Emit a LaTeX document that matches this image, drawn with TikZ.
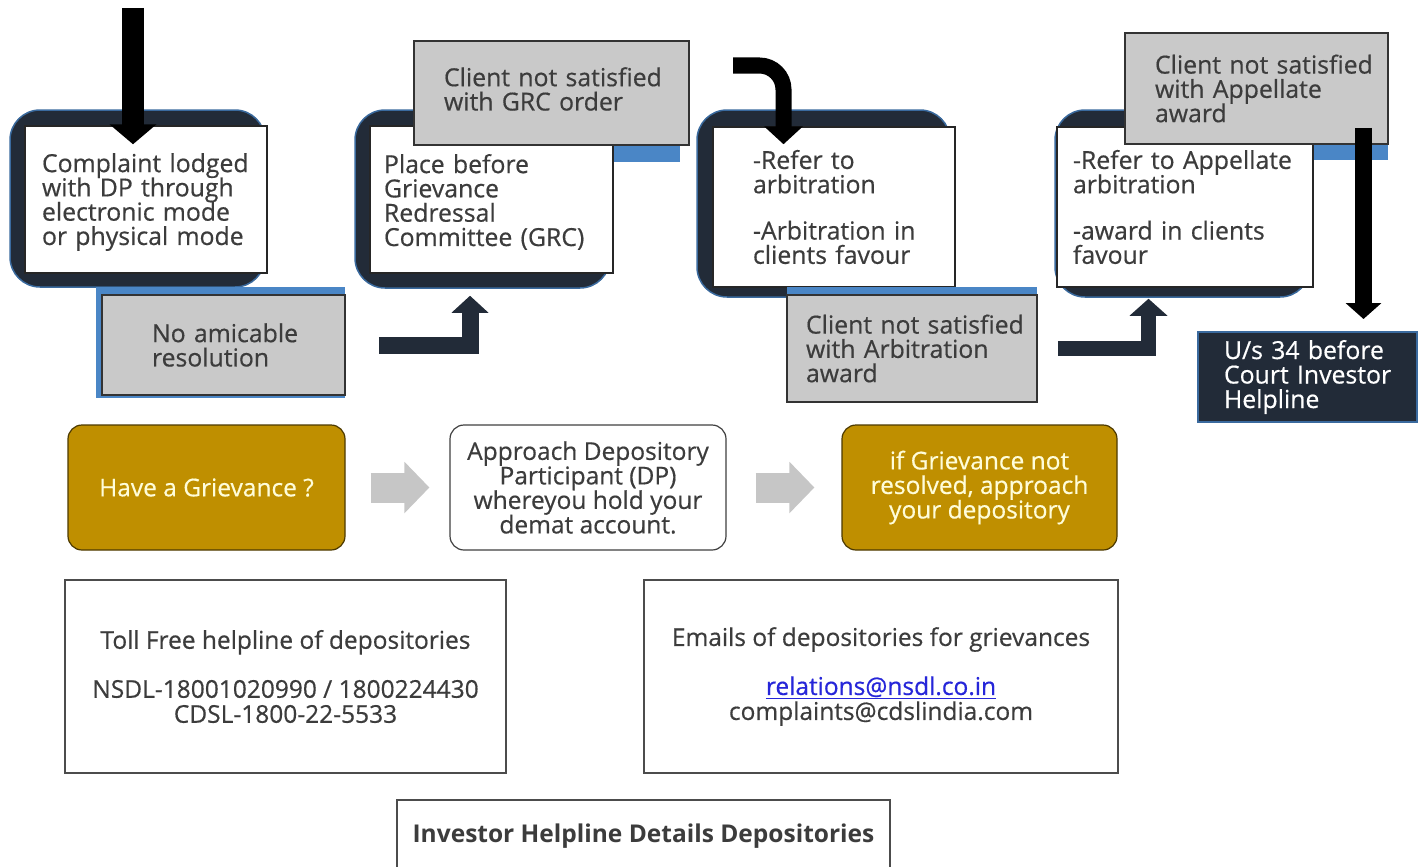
\documentclass[tikz,border=0pt]{standalone}
\usepackage{fontspec}
\setmainfont{Open Sans}
\newfontfamily\medf{Open Sans}[FakeBold=0.5]
\usetikzlibrary{arrows.meta,calc}
\definecolor{navy}{HTML}{222B38}
\definecolor{rim}{HTML}{3A6A9E}
\definecolor{bluestrip}{HTML}{4A86C6}
\definecolor{boxgray}{HTML}{C9C9C9}
\definecolor{gold}{HTML}{BF8F00}
\definecolor{txt}{HTML}{3C3C3C}
\definecolor{arrowgray}{HTML}{C6C6C6}
\definecolor{linkblue}{HTML}{2626D9}
\newcommand\fsz[2]{\fontsize{#1}{#2}\selectfont\lineskiplimit=-100pt\relax}
\newcommand\lne[1]{\mbox{#1}}
\begin{document}
\begin{tikzpicture}[x=1pt,y=-1pt,
  darkbox/.style={draw=rim, line width=1.5pt, fill=navy, rounded corners=30pt, inner sep=0pt},
  whitebox/.style={draw=black!85, line width=1.5pt, fill=white, inner ysep=0pt, align=left, text=txt, font=\medf\fsz{24.8}{24.3}},
  graybox/.style={draw=black!80, line width=1.5pt, fill=boxgray, inner ysep=0pt, align=left, text=txt, font=\medf\fsz{24.8}{24.3}},
  bluebox/.style={fill=bluestrip, draw=none},
  courtbox/.style={draw=rim, line width=2pt, fill=navy, inner ysep=0pt, align=left, text=white, font=\medf\fsz{24.8}{24.5}},
  goldbox/.style={draw=black!60!gold, line width=1.2pt, fill=gold, rounded corners=14pt, align=center, text=white!85!yellow, font=\medf\fsz{24.5}{24.5}},
  apbox/.style={draw=black!75, line width=1.2pt, fill=white, rounded corners=14pt, align=center, text=txt, font=\medf\fsz{24.5}{24.5}},
  infobox/.style={draw=black!70, line width=2pt, fill=white, align=center, text=txt, font=\medf\fsz{24.5}{25}},
  blackarrow/.style={draw=black},
  navyarrow/.style={draw=navy},
  grayarrow/.style={draw=arrowgray, line width=30pt, -{Triangle[width=50pt,length=25pt]}}
]
\useasboundingbox (0,0) rectangle (1421,867);

% ---- step 1
\node[darkbox, minimum width=255pt, minimum height=177pt] (d1) at (137.5,198.5) {};
\node[whitebox, minimum width=242pt, minimum height=147pt, inner xsep=17pt, text width=208pt, text height=24pt] (w1) at (146,199.5)
  {\lne{Complaint lodged}\\\lne{with DP through}\\\lne{electronic mode}\\\lne{or physical mode}};
\node[bluebox, minimum width=249pt, minimum height=111pt] (b1) at (220.5,342.5) {};
\node[graybox, minimum width=243pt, minimum height=100pt, inner xsep=50pt, text width=143pt] (g1) at (223.5,345)
  {\lne{No amicable}\\\lne{resolution}};

% ---- step 2
\node[darkbox, minimum width=255pt, minimum height=178pt] (d2) at (482.5,199) {};
\node[bluebox, minimum width=266pt, minimum height=105pt] (b2) at (547,109.5) {};
\node[whitebox, minimum width=243pt, minimum height=147pt, inner xsep=14pt, text width=215pt, text height=24pt] (w2) at (491.5,199.5)
  {\lne{Place before}\\\lne{Grievance}\\\lne{Redressal}\\\lne{Committee (GRC)}};
\node[graybox, minimum width=275pt, minimum height=104pt, inner xsep=30pt, text width=215pt] (g2) at (551.5,93)
  {\lne{Client not satisfied}\\\lne{with GRC order}\\[-16pt]\mbox{}};

% ---- step 3
\node[darkbox, minimum width=253pt, minimum height=187pt] (d3) at (823.5,203.5) {};
\node[whitebox, minimum width=242pt, minimum height=160pt, inner xsep=40pt, text width=162pt] (w3) at (834,207)
  {\lne{-Refer to}\\\lne{arbitration}\\[22pt]\lne{-Arbitration in}\\\lne{clients favour}};
\node[bluebox, minimum width=250pt, minimum height=113pt] (b3) at (912,343.5) {};
\node[graybox, minimum width=250pt, minimum height=107pt, inner xsep=19pt, text width=212pt] (g3) at (912,348.5)
  {\lne{Client not satisfied}\\\lne{with Arbitration}\\\lne{award}};

% ---- step 4
\node[darkbox, minimum width=255pt, minimum height=187pt] (d4) at (1182.5,203.5) {};
\node[bluebox, minimum width=263pt, minimum height=110pt] (b4) at (1256.5,105) {};
\node[whitebox, minimum width=256pt, minimum height=160pt, inner xsep=16pt, text width=224pt] (w4) at (1185,207)
  {\lne{-Refer to Appellate}\\\lne{arbitration}\\[22pt]\lne{-award in clients}\\\lne{favour}};
\node[graybox, minimum width=263pt, minimum height=111pt, inner xsep=30pt, text width=203pt] (g4) at (1256.5,88.5)
  {\lne{Client not satisfied}\\\lne{with Appellate}\\\lne{award}};
\node[courtbox, minimum width=219pt, minimum height=90pt, inner xsep=26pt, text width=167pt] (cb) at (1307.5,377)
  {\lne{U/s 34 before}\\\lne{Court Investor}\\\lne{Helpline}};

% ---- arrows of the top row
\coordinate (a1s) at (133,8);
\draw[blackarrow, line width=22pt, -{Triangle[width=46pt,length=20pt]}] (a1s) -- ([yshift=-19pt]w1.north -| a1s);

\coordinate (e1x) at (470,0);
\draw[navyarrow, line width=17pt, -{Triangle[width=36pt,length=17pt]}] ([xshift=33pt]g1.east) -| ([yshift=-7pt]d2.south -| e1x);

\coordinate (a3s) at (733,65.5);
\coordinate (a3x) at (783.5,0);
\draw[blackarrow, line width=16pt, rounded corners=24pt, -{Triangle[width=38pt,length=18pt]}] (a3s) -| ([yshift=-18pt]w3.north -| a3x);

\coordinate (e2x) at (1148.5,0);
\draw[navyarrow, line width=15pt, -{Triangle[width=37pt,length=17pt]}] ([xshift=20pt]g3.east) -| ([yshift=-1pt]d4.south -| e2x);

\coordinate (a4x) at (1363.5,0);
\draw[blackarrow, line width=17pt, -{Triangle[width=35pt,length=16pt]}] ([yshift=17pt]g4.south -| a4x) -- ([yshift=12pt]cb.north -| a4x);

% ---- middle row
\node[goldbox, minimum width=277pt, minimum height=125pt] (gr1) at (206.5,487.5) {Have a Grievance ?};
\node[apbox, minimum width=276pt, minimum height=125pt] (ap) at (588,487.5)
  {Approach Depository\\Participant (DP)\\whereyou hold your\\demat account.};
\node[goldbox, minimum width=275pt, minimum height=125pt] (gr2) at (979.5,487.5)
  {if Grievance not\\resolved, approach\\your depository};
\draw[grayarrow] ([xshift=25pt]gr1.east) -- ([xshift=-20pt]ap.west);
\draw[grayarrow] ([xshift=29pt]ap.east) -- ([xshift=-27pt]gr2.west);

% ---- info boxes
\node[infobox, minimum width=441pt, minimum height=193pt] (i1) at (285.5,676.5)
  {Toll Free helpline of depositories\\[24pt]NSDL-18001020990 / 1800224430\\CDSL-1800-22-5533};
\node[infobox, minimum width=474pt, minimum height=193pt] (i2) at (881,676.5)
  {Emails of depositories for grievances\\[24pt]{\color{linkblue}\underline{relations@nsdl.co.in}}\\complaints@cdslindia.com};
\node[infobox, minimum width=493pt, minimum height=72pt, font=\bfseries\fsz{24.5}{25}] (ih) at (643.5,836)
  {Investor Helpline Details Depositories};
\end{tikzpicture}
\end{document}
